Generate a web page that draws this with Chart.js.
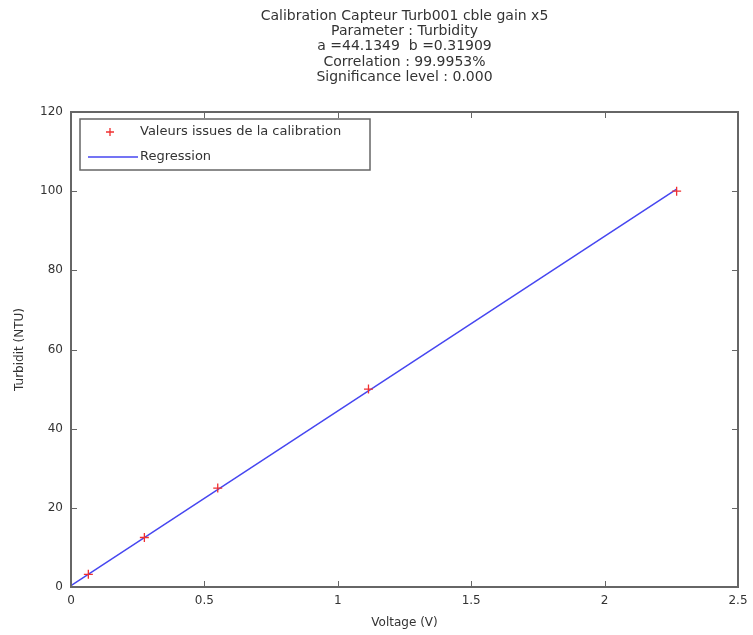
<!DOCTYPE html>
<html>
<head>
<meta charset="utf-8">
<script src="https://cdn.jsdelivr.net/npm/chart.js@4/dist/chart.umd.min.js"></script>
<style>
  html, body { margin: 0; padding: 0; background: #fff; }
  #wrap { width: 753px; height: 635px; }
</style>
</head>
<body>
<div id="wrap"><canvas id="chart" width="753" height="635"></canvas></div>
<script>
// calibration points
const voltage = [0, 0.065, 0.275, 0.55, 1.115, 2.27];
const turbidity = [0, 3.2, 12.5, 25, 50, 100];

// regression segment (a = 44.1349, b = 0.31909), endpoints
const regVoltage = [0, 2.27];
const regTurbidity = [0.32, 100.5];

const xTicks = [0, 0.5, 1, 1.5, 2, 2.5];
const yTicks = [0, 20, 40, 60, 80, 100, 120];

const titleLines = [
  'Calibration Capteur Turb001 cble gain x5',
  'Parameter : Turbidity',
  'a =44.1349  b =0.31909',
  'Correlation : 99.9953%',
  'Significance level : 0.000'
];

const FONT = '"DejaVu Sans", Verdana, sans-serif';
const INK = '#333';
const FRAME = '#666';

// Matlab-style box with inward ticks on all four sides
const boxPlugin = {
  id: 'box',
  afterDatasetsDraw(chart) {
    const { ctx, chartArea: a, scales } = chart;
    ctx.save();
    ctx.strokeStyle = FRAME;
    ctx.lineWidth = 1;
    const len = 6;
    ctx.beginPath();
    xTicks.forEach(v => {
      const px = Math.round(scales.x.getPixelForValue(v)) + 0.5;
      ctx.moveTo(px, a.bottom); ctx.lineTo(px, a.bottom - len);
      ctx.moveTo(px, a.top); ctx.lineTo(px, a.top + len);
    });
    yTicks.forEach(v => {
      const py = Math.round(scales.y.getPixelForValue(v)) + 0.5;
      ctx.moveTo(a.left, py); ctx.lineTo(a.left + len, py);
      ctx.moveTo(a.right, py); ctx.lineTo(a.right - len, py);
    });
    ctx.stroke();
    ctx.lineWidth = 2;
    ctx.strokeRect(a.left, a.top, a.right - a.left, a.bottom - a.top);
    ctx.restore();
  }
};

// legend box in the top-left corner of the axes
const legendBoxPlugin = {
  id: 'legendBox',
  afterDraw(chart) {
    const { ctx, chartArea: a } = chart;
    const x0 = a.left + 9, y0 = a.top + 7, w = 290, h = 51;
    ctx.save();
    ctx.fillStyle = '#fff';
    ctx.fillRect(x0, y0, w, h);
    ctx.strokeStyle = FRAME;
    ctx.lineWidth = 1.5;
    ctx.strokeRect(x0, y0, w, h);

    const ds = chart.data.datasets;
    ctx.font = '13px ' + FONT;
    ctx.fillStyle = INK;
    ctx.textBaseline = 'middle';

    // marker
    const r1 = y0 + 13;
    ctx.strokeStyle = ds[0].borderColor;
    ctx.lineWidth = 1.3;
    ctx.beginPath();
    ctx.moveTo(x0 + 26, r1); ctx.lineTo(x0 + 34, r1);
    ctx.moveTo(x0 + 30, r1 - 4); ctx.lineTo(x0 + 30, r1 + 4);
    ctx.stroke();
    ctx.fillText(ds[0].label, x0 + 60, r1);

    // line
    const r2 = y0 + 38;
    ctx.strokeStyle = ds[1].borderColor;
    ctx.lineWidth = 1.5;
    ctx.beginPath();
    ctx.moveTo(x0 + 8, r2); ctx.lineTo(x0 + 58, r2);
    ctx.stroke();
    ctx.fillText(ds[1].label, x0 + 60, r2);
    ctx.restore();
  }
};

new Chart(document.getElementById('chart'), {
  type: 'scatter',
  data: {
    datasets: [
      {
        label: 'Valeurs issues de la calibration',
        data: voltage.map((v, i) => ({ x: v, y: turbidity[i] })),
        pointStyle: 'cross',
        pointRadius: 4.5,
        borderColor: '#f03030',
        backgroundColor: '#f03030',
        borderWidth: 1.3,
        showLine: false
      },
      {
        label: 'Regression',
        data: regVoltage.map((v, i) => ({ x: v, y: regTurbidity[i] })),
        showLine: true,
        pointRadius: 0,
        borderColor: '#4646f0',
        borderWidth: 1.5
      }
    ]
  },
  options: {
    responsive: false,
    animation: false,
    layout: { padding: { top: 0, right: 15, bottom: 0, left: 0 } },
    plugins: {
      legend: { display: false },
      tooltip: { enabled: false },
      title: {
        display: true,
        fullSize: false,
        text: titleLines,
        color: INK,
        font: { family: FONT, size: 14, weight: 'normal', lineHeight: 1.1 },
        padding: { top: 8.3, bottom: 26.7 }
      }
    },
    scales: {
      x: {
        type: 'linear', min: 0, max: 2.5,
        afterBuildTicks: s => { s.ticks = xTicks.map(v => ({ value: v })); },
        afterFit: s => { s.height = 48; s.paddingRight = 0; s.paddingLeft = 0; },
        grid: { display: false, drawTicks: false },
        border: { display: false },
        ticks: { color: INK, padding: 7, font: { family: FONT, size: 12 }, maxRotation: 0,
                 callback: v => String(v) },
        title: { display: true, text: 'Voltage (V)', color: INK, padding: { top: 0, bottom: 5 },
                 font: { family: FONT, size: 12 } }
      },
      y: {
        type: 'linear', min: 0, max: 120,
        afterBuildTicks: s => { s.ticks = yTicks.map(v => ({ value: v })); },
        afterFit: s => { s.width = 71; },
        grid: { display: false, drawTicks: false },
        border: { display: false },
        ticks: { color: INK, padding: 8, font: { family: FONT, size: 12 } },
        title: { display: true, text: 'Turbidit (NTU)', color: INK, padding: { top: 13, bottom: 0 },
                 font: { family: FONT, size: 12 } }
      }
    }
  },
  plugins: [boxPlugin, legendBoxPlugin]
});
</script>
</body>
</html>
